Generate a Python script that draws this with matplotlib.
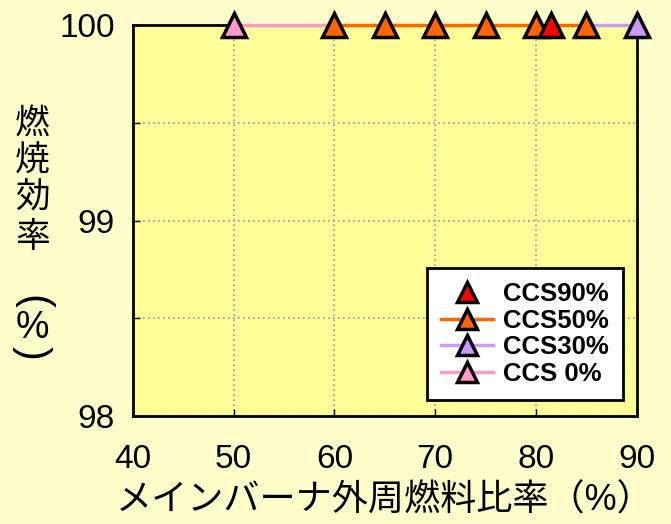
import matplotlib
matplotlib.use('Agg')
import matplotlib.pyplot as plt
from matplotlib.ticker import MultipleLocator

plt.rcParams['font.family'] = ['Liberation Sans', 'Noto Sans CJK JP', 'DejaVu Sans']

# data
ccs90_x = [81.5]
ccs90_y = [100]
ccs50_x = [60, 65, 70, 75, 80, 85]
ccs50_y = [100, 100, 100, 100, 100, 100]
ccs30_x = [85, 90]
ccs30_y = [100, 100]
ccs0_x = [50, 60]
ccs0_y = [100, 100]

x_ticks = [40, 50, 60, 70, 80, 90]
y_ticks = [98, 99, 100]

fig = plt.figure(figsize=(6.71, 5.24), dpi=100, facecolor='#FFFFCC')
ax = fig.add_axes([0.198, 0.206, 0.751, 0.746])
ax.set_facecolor('#FFFF99')

mk = dict(marker='^', markersize=17, markeredgecolor='black', markeredgewidth=2.5, clip_on=False)
ax.plot(ccs0_x, ccs0_y, color='#FF99CC', lw=2.5, markerfacecolor='#FF99CC', label='CCS 0%', markevery=[0], zorder=3, **mk)
ax.plot(ccs30_x, ccs30_y, color='#CC99FF', lw=2.5, markerfacecolor='#CC99FF', label='CCS30%', markevery=[1], zorder=3, **mk)
ax.plot(ccs50_x, ccs50_y, color='#FF6600', lw=2.5, markerfacecolor='#FF6600', label='CCS50%', zorder=4, **mk)
ax.plot(ccs90_x, ccs90_y, color='#FF0000', lw=0, markerfacecolor='#FF0000', label='CCS90%', zorder=5, **mk)

ax.set_xlim(40, 90)
ax.set_ylim(98, 100)
ax.set_xticks(x_ticks)
ax.set_yticks(y_ticks)
ax.yaxis.set_minor_locator(MultipleLocator(0.5))
ax.tick_params(axis='both', which='both', direction='in', labelsize=24, length=5, width=1)
ax.tick_params(axis='x', pad=20)
ax.tick_params(axis='y', pad=13)
ax.grid(True, which='both', color='#999999', linestyle=(0, (1, 2)), linewidth=1.2)
for s in ax.spines.values():
    s.set_linewidth(2)

ax.set_xlabel('メインバーナ外周燃料比率（%）', fontsize=26, labelpad=6)

# vertical y label, one glyph per line; brackets turned like vertical text
ylab_x = 0.048
for ch, yy in [('燃', 0.762), ('焼', 0.695), ('効', 0.624), ('率', 0.546)]:
    fig.text(ylab_x, yy, ch, fontsize=25, ha='center', va='center',
             family=['Noto Sans CJK JP', 'DejaVu Sans'])
fig.text(ylab_x, 0.424, '(', fontsize=30, ha='center', va='center', rotation=-90)
fig.text(ylab_x, 0.374, '%', fontsize=27, ha='center', va='center')
fig.text(ylab_x, 0.326, ')', fontsize=30, ha='center', va='center', rotation=-90)

handles, labels = ax.get_legend_handles_labels()
order = [3, 2, 1, 0]
leg = ax.legend([handles[i] for i in order], [labels[i] for i in order],
                loc='lower right', bbox_to_anchor=(0.972, 0.041), fancybox=False,
                framealpha=1, edgecolor='black', prop={'size': 18.5, 'weight': 'bold'},
                handlelength=2.0, borderpad=0.55, labelspacing=0.1, handletextpad=0.4,
                borderaxespad=0)
leg.get_frame().set_linewidth(2)
for h in leg.legend_handles:
    h.set_markersize(15)

fig.savefig('out.png', dpi=100, facecolor=fig.get_facecolor())
